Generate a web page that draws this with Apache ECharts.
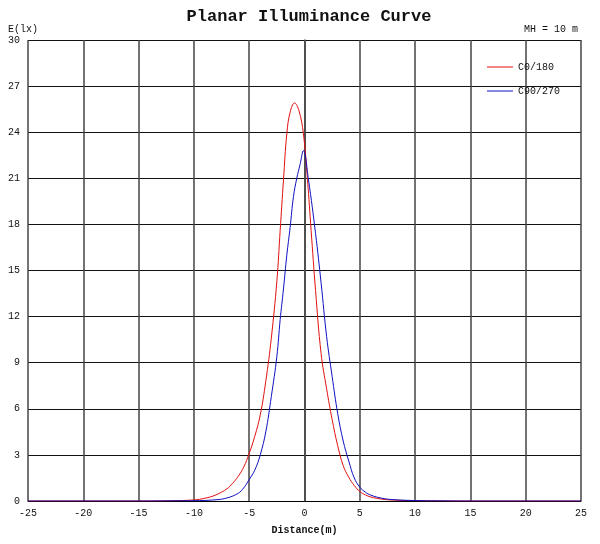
<!DOCTYPE html>
<html><head><meta charset="utf-8">
<script src="https://cdn.jsdelivr.net/npm/echarts@6/dist/echarts.min.js"></script>
<style>html,body{margin:0;padding:0;background:#fff}#c{width:600px;height:544px}</style>
</head><body><div id="c"></div>
<script>
var xTicks = [-25,-20,-15,-10,-5,0,5,10,15,20,25];
var yTicks = [0,3,6,9,12,15,18,21,24,27,30];
var seriesNames = ['C0/180','C90/270'];
var redX = [-25,-15,-12,-10,-9,-8,-7,-6.5,-6,-5.5,-5,-4.5,-4,-3.5,-3,-2.5,-2.2,-1.9,-1.6,-1.3,-0.9,-0.5,-0.1,0.27,0.6,1,1.5,2,2.5,3,3.5,4,4.5,5,5.5,6,7,8,10,12,15,25];
var redY = [0,0,0.02,0.07,0.18,0.4,0.8,1.15,1.6,2.2,3.1,4.2,5.6,7.8,10.6,14.3,17.6,20.9,23.9,25.3,25.9,25.4,23.9,20.9,17.6,13.7,9.6,7.3,5.3,3.6,2.3,1.55,1.0,0.62,0.4,0.26,0.12,0.06,0.02,0.01,0,0];
var blueX = [-25,-15,-12,-10,-8,-7,-6,-5.5,-5,-4.5,-4,-3.5,-3,-2.5,-2.2,-1.9,-1.6,-1.3,-1,-0.7,-0.4,-0.1,0.36,1,1.5,2,2.5,3,3.5,4,4.5,5,5.5,6,7,8,10,12,15,25];
var blueY = [0,0,0.01,0.02,0.08,0.2,0.5,0.85,1.4,2.0,3.0,4.5,6.8,9.4,11.8,13.8,16.0,17.8,19.8,21.0,21.9,22.8,20.9,17.4,14.2,10.7,8.1,5.7,3.9,2.6,1.5,0.9,0.58,0.38,0.18,0.09,0.03,0.01,0,0];
function pairs(xs, ys){ return xs.map(function(x,i){return [x, ys[i]];}); }
var font = 'Liberation Mono, Courier New, monospace';
var chart = echarts.init(document.getElementById('c'));
chart.setOption({
  animation:false,
  backgroundColor:'#fff',
  title:{text:'Planar Illuminance Curve', left:304, top:3, textAlign:'center',
    textStyle:{fontFamily:font, fontSize:17, fontWeight:'bold', color:'#111'}},
  graphic:[
    {type:'text', left:8, top:24, style:{text:'E(lx)', font:'10px '+font, fill:'#111'}},
    {type:'text', right:22, top:24, style:{text:'MH = 10 m', font:'10px '+font, fill:'#111'}}
  ],
  legend:{orient:'vertical', left:482, top:57, itemGap:14, itemWidth:26, itemHeight:1, icon:'rect',
    data:seriesNames, textStyle:{fontFamily:font, fontSize:10, color:'#111'}},
  grid:{left:28, right:19, top:40, bottom:43},
  xAxis:{type:'value', min:-25, max:25, interval:5,
    name:'Distance(m)', nameLocation:'middle', nameGap:24,
    nameTextStyle:{fontFamily:font, fontSize:10, color:'#111', fontWeight:'bold'},
    axisLine:{lineStyle:{color:'#000', width:1}}, axisTick:{show:false},
    axisLabel:{fontFamily:font, fontSize:10, color:'#111', margin:7},
    splitLine:{show:true, lineStyle:{color:'#444', width:1.5}}},
  yAxis:{type:'value', min:0, max:30, interval:3,
    axisLine:{show:true, lineStyle:{color:'#444', width:1.5}}, axisTick:{show:false},
    axisLabel:{fontFamily:font, fontSize:10, color:'#111', margin:8},
    splitLine:{show:true, lineStyle:{color:'#111', width:1}}},
  series:[
    {name:seriesNames[0], type:'line', data:pairs(redX, redY), smooth:0.4, symbol:'none',
      lineStyle:{color:'#e01010', width:1}, itemStyle:{color:'#e01010'}},
    {name:seriesNames[1], type:'line', data:pairs(blueX, blueY), smooth:0.4, symbol:'none',
      lineStyle:{color:'#1010c0', width:1}, itemStyle:{color:'#1010c0'}}
  ]
});
</script></body></html>
